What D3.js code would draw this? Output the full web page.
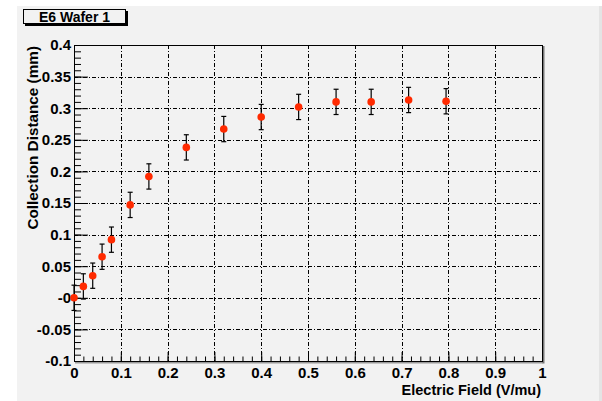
<!DOCTYPE html>
<html>
<head>
<meta charset="utf-8">
<script src="https://cdn.jsdelivr.net/npm/d3@7"></script>
<style>
  body { margin: 0; background: #fff; }
  text { font-family: "Liberation Sans", Arial, sans-serif; font-weight: bold; fill: #000; }
</style>
</head>
<body>
<svg id="chart" width="602" height="401"></svg>
<script>
// data
var fieldValues = [0, 0.02, 0.04, 0.06, 0.08, 0.12, 0.16, 0.24, 0.32, 0.40, 0.48, 0.56, 0.635, 0.715, 0.795]
var distValues = [0.0, 0.018, 0.035, 0.065, 0.092, 0.147, 0.192, 0.238, 0.267, 0.286, 0.302, 0.310, 0.310, 0.313, 0.311]
var distErrors = [0.02, 0.02, 0.02, 0.02, 0.02, 0.02, 0.02, 0.02, 0.02, 0.02, 0.02, 0.02, 0.02, 0.02, 0.02]
var xTicks = [0, 0.1, 0.2, 0.3, 0.4, 0.5, 0.6, 0.7, 0.8, 0.9, 1]
var yTicks = [-0.1, -0.05, 0, 0.05, 0.1, 0.15, 0.2, 0.25, 0.3, 0.35, 0.4]
var yTickLabels = ["-0.1", "-0.05", "-0", "0.05", "0.1", "0.15", "0.2", "0.25", "0.3", "0.35", "0.4"]
var plotTitle = "E6 Wafer 1"
var xTitle = "Electric Field (V/mu)"
var yTitle = "Collection Distance (mm)"

var frame = { left: 74, right: 542, top: 45, bottom: 361 }

var svg = d3.select("#chart")

// canvas background
svg.append("rect").attr("x", 17).attr("y", 6).attr("width", 582).attr("height", 395).attr("fill", "#f2f2f2")
svg.append("rect").attr("x", 599).attr("y", 6).attr("width", 3).attr("height", 395).attr("fill", "#e4e4e4")

var xScale = d3.scaleLinear().domain([0, 1]).range([frame.left, frame.right])
var yScale = d3.scaleLinear().domain([-0.1, 0.4]).range([frame.bottom, frame.top])

var w = frame.right - frame.left
var h = frame.bottom - frame.top

// grid
var grid = svg.append("g").attr("class", "grid")
grid.selectAll("line.gx")
    .data(xTicks.slice(1, -1))
    .enter().append("line")
    .attr("x1", function (d) { return Math.round(xScale(d)) + 0.5 })
    .attr("x2", function (d) { return Math.round(xScale(d)) + 0.5 })
    .attr("y1", frame.top).attr("y2", frame.bottom)
grid.selectAll("line.gy")
    .data(yTicks.slice(1, -1))
    .enter().append("line")
    .attr("y1", function (d) { return Math.round(yScale(d)) + 0.5 })
    .attr("y2", function (d) { return Math.round(yScale(d)) + 0.5 })
    .attr("x1", frame.left).attr("x2", frame.right)
grid.selectAll("line")
    .attr("stroke", "#000")
    .attr("stroke-width", 1)
    .attr("stroke-dasharray", "4,2,1,2")

// minor ticks
var xMinor = d3.range(0, 1.0001, 0.02)
var yMinor = d3.range(-0.1, 0.4001, 0.01)

var axisX = d3.axisBottom(xScale).tickValues(xMinor).tickSize(-4.5).tickFormat("")
svg.append("g").attr("transform", "translate(0," + frame.bottom + ")").call(axisX)
    .call(function (g) { g.select(".domain").remove() })

var axisY = d3.axisLeft(yScale).tickValues(yMinor).tickSize(-7).tickFormat("")
svg.append("g").attr("transform", "translate(" + frame.left + ",0)").call(axisY)
    .call(function (g) { g.select(".domain").remove() })

// major ticks with labels
var axisXMajor = d3.axisBottom(xScale).tickValues(xTicks).tickSize(-9)
    .tickFormat(function (d) { return d3.format("")(d) })
var gx = svg.append("g").attr("transform", "translate(0," + frame.bottom + ")").call(axisXMajor)
gx.select(".domain").remove()
gx.selectAll("text").attr("font-size", 15).attr("dy", 0).attr("y", 16.5)
    .attr("font-family", "Liberation Sans, Arial, sans-serif").attr("font-weight", "bold")

var axisYMajor = d3.axisLeft(yScale).tickValues(yTicks).tickSize(-14)
    .tickFormat(function (d, i) { return yTickLabels[i] })
var gy = svg.append("g").attr("transform", "translate(" + frame.left + ",0)").call(axisYMajor)
gy.select(".domain").remove()
gy.selectAll("text").attr("font-size", 15).attr("x", -3)
    .attr("font-family", "Liberation Sans, Arial, sans-serif").attr("font-weight", "bold")

svg.selectAll(".tick line").attr("stroke", "#000")

// frame with bevel on right/bottom
svg.append("line").attr("x1", frame.left + 1).attr("x2", frame.right + 1)
    .attr("y1", frame.bottom + 1.5).attr("y2", frame.bottom + 1.5)
    .attr("stroke", "#999").attr("stroke-width", 2)
svg.append("line").attr("x1", frame.right + 1.5).attr("x2", frame.right + 1.5)
    .attr("y1", frame.top + 1).attr("y2", frame.bottom + 2.5)
    .attr("stroke", "#777").attr("stroke-width", 2)
svg.append("rect")
    .attr("x", frame.left + 0.5).attr("y", frame.top + 0.5)
    .attr("width", w).attr("height", h)
    .attr("fill", "none").attr("stroke", "#000")

// error bars
var points = fieldValues.map(function (x, i) {
    return { x: x, y: distValues[i], e: distErrors[i] }
})
var bars = svg.append("g").attr("class", "errors")
bars.selectAll("line.bar")
    .data(points).enter().append("line")
    .attr("x1", function (d) { return xScale(d.x) })
    .attr("x2", function (d) { return xScale(d.x) })
    .attr("y1", function (d) { return yScale(d.y - d.e) })
    .attr("y2", function (d) { return yScale(d.y + d.e) })
    .attr("stroke", "#000").attr("stroke-width", 1.2)
bars.selectAll("line.capTop")
    .data(points).enter().append("line")
    .attr("x1", function (d) { return xScale(d.x) - 2.5 })
    .attr("x2", function (d) { return xScale(d.x) + 2.5 })
    .attr("y1", function (d) { return yScale(d.y + d.e) })
    .attr("y2", function (d) { return yScale(d.y + d.e) })
    .attr("stroke", "#000").attr("stroke-width", 1.2)
bars.selectAll("line.capBot")
    .data(points).enter().append("line")
    .attr("x1", function (d) { return xScale(d.x) - 2.5 })
    .attr("x2", function (d) { return xScale(d.x) + 2.5 })
    .attr("y1", function (d) { return yScale(d.y - d.e) })
    .attr("y2", function (d) { return yScale(d.y - d.e) })
    .attr("stroke", "#000").attr("stroke-width", 1.2)

// markers
svg.append("g").selectAll("circle")
    .data(points).enter().append("circle")
    .attr("cx", function (d) { return xScale(d.x) })
    .attr("cy", function (d) { return yScale(d.y) })
    .attr("r", 3.8)
    .attr("fill", "#ff2a00")

// axis titles
svg.append("text")
    .attr("x", frame.right - 1).attr("y", 395)
    .attr("text-anchor", "end").attr("font-size", 14.5)
    .text(xTitle)

svg.append("text")
    .attr("transform", "translate(37.5," + (frame.top + 1) + ") rotate(-90)")
    .attr("text-anchor", "end").attr("font-size", 15.3)
    .text(yTitle)

// title box
svg.append("rect").attr("x", 25).attr("y", 11).attr("width", 103).attr("height", 15).attr("fill", "#000")
svg.append("rect").attr("x", 23.5).attr("y", 9.5).attr("width", 102).attr("height", 14)
    .attr("fill", "#f2f2f2").attr("stroke", "#000")
svg.append("text")
    .attr("x", 74.5).attr("y", 21.5)
    .attr("text-anchor", "middle").attr("font-size", 14)
    .text(plotTitle)
</script>
</body>
</html>
